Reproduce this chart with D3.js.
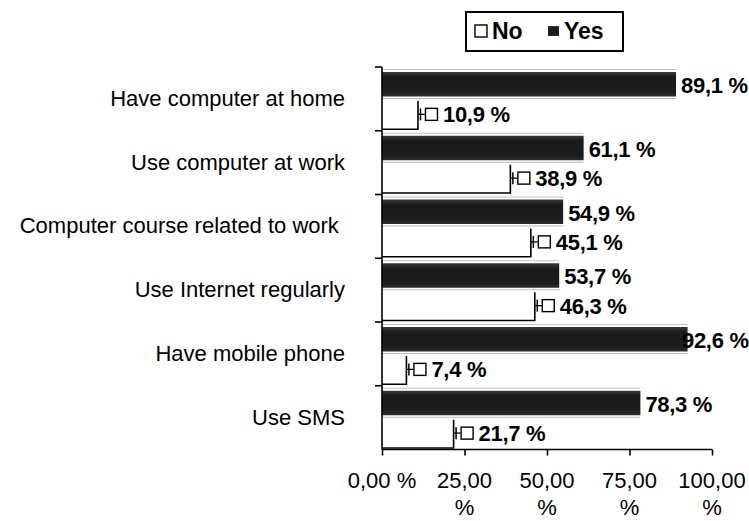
<!DOCTYPE html>
<html>
<head>
<meta charset="utf-8">
<script src="https://cdn.jsdelivr.net/npm/d3@7"></script>
<style>
  body { margin: 0; background: #fff; }
  svg { display: block; font-family: "Liberation Sans", Arial, sans-serif; }
</style>
</head>
<body>
<div id="chart"></div>
<script>
// chart data
var categories = ["Have computer at home", "Use computer at work", "Computer course related to work ",
	"Use Internet regularly", "Have mobile phone", "Use SMS"];
var yesValues = [89.1, 61.1, 54.9, 53.7, 92.6, 78.3];
var noValues = [10.9, 38.9, 45.1, 46.3, 7.4, 21.7];
var xTicks = [0, 25, 50, 75, 100];
var xTickLabels = [["0,00 %"], ["25,00", "%"], ["50,00", "%"], ["75,00", "%"], ["100,00", "%"]];
var seriesNames = ["No", "Yes"];

var pct = d3.format(".1f");
function label(v) { return pct(v).replace(".", ",") + " %"; }

var width = 749, height = 521;

var svg = d3.select("#chart").append("svg")
	.attr("width", width)
	.attr("height", height);

// gradient for the dark bars
var grad = svg.append("defs").append("linearGradient")
	.attr("id", "darkGrad")
	.attr("x1", 0).attr("y1", 0).attr("x2", 0).attr("y2", 1);
grad.append("stop").attr("offset", "0%").attr("stop-color", "#3a3a3a");
grad.append("stop").attr("offset", "20%").attr("stop-color", "#1a1a1a");
grad.append("stop").attr("offset", "80%").attr("stop-color", "#1c1c1c");
grad.append("stop").attr("offset", "100%").attr("stop-color", "#2c2c2c");

var x = d3.scaleLinear().domain([0, 100]).range([382, 712]);
var y = d3.scaleBand().domain(categories).range([67, 449.5]);
var bw = y.bandwidth();

var rows = categories.map(function(c, i) {
	return { cat: c, yes: yesValues[i], no: noValues[i] };
});

var g = svg.selectAll(".row")
	.data(rows)
	.enter()
	.append("g")
		.attr("class", "row")
		.attr("transform", function(d) { return "translate(0," + y(d.cat) + ")"; });

// thin highlight line above the dark bar
g.append("line")
	.attr("x1", x(0)).attr("x2", function(d) { return x(d.yes); })
	.attr("y1", 2.5).attr("y2", 2.5)
	.style("stroke", "#b0b0b0").style("stroke-width", 0.8);

// Yes bars
g.append("rect")
	.attr("x", x(0))
	.attr("y", 5)
	.attr("width", function(d) { return x(d.yes) - x(0); })
	.attr("height", 24.5)
	.style("fill", "url(#darkGrad)");

// shadow line below dark bar
g.append("line")
	.attr("x1", x(0)).attr("x2", function(d) { return x(d.yes); })
	.attr("y1", 31.5).attr("y2", 31.5)
	.style("stroke", "#bdbdbd").style("stroke-width", 1.2);

// No bars
g.append("rect")
	.attr("x", x(0))
	.attr("y", 32.5)
	.attr("width", function(d) { return x(d.no) - x(0); })
	.attr("height", bw - 34)
	.style("fill", "#fff");

g.append("path")
	.attr("d", function(d) {
		return "M" + x(0) + "," + (bw - 1.5) + "H" + x(d.no) + "V" + 34;
	})
	.style("fill", "none")
	.style("stroke", "#000")
	.style("stroke-width", 1.6);

// No label: leader, cap, key square, text
var noMid = 32.5 + (bw - 34) / 2;
g.append("line")
	.attr("x1", function(d) { return x(d.no); })
	.attr("x2", function(d) { return x(d.no) + 7; })
	.attr("y1", noMid).attr("y2", noMid)
	.style("stroke", "#000").style("stroke-width", 1.3);
g.append("line")
	.attr("x1", function(d) { return x(d.no) + 2.5; })
	.attr("x2", function(d) { return x(d.no) + 2.5; })
	.attr("y1", noMid - 6).attr("y2", noMid + 6)
	.style("stroke", "#000").style("stroke-width", 1.5);
g.append("rect")
	.attr("x", function(d) { return x(d.no) + 7.5; })
	.attr("y", noMid - 6)
	.attr("width", 12).attr("height", 12)
	.style("fill", "#fff").style("stroke", "#000").style("stroke-width", 1.4);
g.append("text")
	.attr("x", function(d) { return x(d.no) + 25; })
	.attr("y", noMid + 8)
	.style("font-size", "22px")
	.style("font-weight", 700)
	.style("letter-spacing", "-0.3px")
	.text(function(d) { return label(d.no); });

// Yes label (kept inside the picture at the right edge)
g.append("text")
	.attr("x", function(d) { return Math.min(x(d.yes) + 5, 682); })
	.attr("y", 26)
	.style("font-size", "22px")
	.style("font-weight", 700)
	.style("letter-spacing", "-0.3px")
	.text(function(d) { return label(d.yes); });

// category labels
svg.selectAll(".catLabel")
	.data(categories)
	.enter()
	.append("text")
		.attr("class", "catLabel")
		.attr("x", 345)
		.attr("y", function(d) { return y(d) + bw / 2 + 7; })
		.attr("text-anchor", "end")
		.style("white-space", "pre")
		.style("font-size", "22px")
		.text(function(d) { return d; });

// y axis with ticks at band edges
var edges = categories.map(function(c) { return y(c); }).concat([y.range()[1]]);
svg.append("line")
	.attr("x1", x(0)).attr("x2", x(0))
	.attr("y1", y.range()[0]).attr("y2", y.range()[1])
	.style("stroke", "#000").style("stroke-width", 1.6);
svg.selectAll(".ytick")
	.data(edges.slice(0, -1))
	.enter()
	.append("line")
		.attr("class", "ytick")
		.attr("x1", x(0) - 7).attr("x2", x(0))
		.attr("y1", function(d) { return d; }).attr("y2", function(d) { return d; })
		.style("stroke", "#000").style("stroke-width", 1.6);

// x axis
var xAxis = svg.append("g")
	.attr("transform", "translate(0," + y.range()[1] + ")")
	.call(d3.axisBottom(x).tickValues(xTicks).tickSize(6).tickSizeOuter(0).tickFormat(""));
xAxis.select(".domain").style("stroke-width", 1.6).attr("d", "M" + x(0) + ",0H" + x(100));
xAxis.selectAll(".tick line").style("stroke-width", 1.6);

var tl = svg.selectAll(".xlab")
	.data(xTicks)
	.enter()
	.append("text")
		.attr("class", "xlab")
		.attr("text-anchor", "middle")
		.style("font-size", "22px");
tl.selectAll("tspan")
	.data(function(d, i) { return xTickLabels[i].map(function(s) { return { v: d, s: s }; }); })
	.enter()
	.append("tspan")
		.attr("x", function(d) { return x(d.v); })
		.attr("y", function(d, j) { return 488 + j * 27; })
		.text(function(d) { return d.s; });

// legend
var leg = svg.append("g");
leg.append("rect")
	.attr("x", 466).attr("y", 12).attr("width", 157).attr("height", 39)
	.style("fill", "#fff").style("stroke", "#000").style("stroke-width", 2);
leg.append("rect")
	.attr("x", 475).attr("y", 25).attr("width", 12).attr("height", 12)
	.style("fill", "#fff").style("stroke", "#000").style("stroke-width", 1.4);
leg.append("text")
	.attr("x", 492).attr("y", 39)
	.style("font-size", "23px").style("font-weight", 700)
	.text(seriesNames[0]);
leg.append("rect")
	.attr("x", 548).attr("y", 26).attr("width", 11).attr("height", 10)
	.style("fill", "url(#darkGrad)");
leg.append("text")
	.attr("x", 564).attr("y", 39)
	.style("font-size", "23px").style("font-weight", 700)
	.text(seriesNames[1]);
</script>
</body>
</html>
